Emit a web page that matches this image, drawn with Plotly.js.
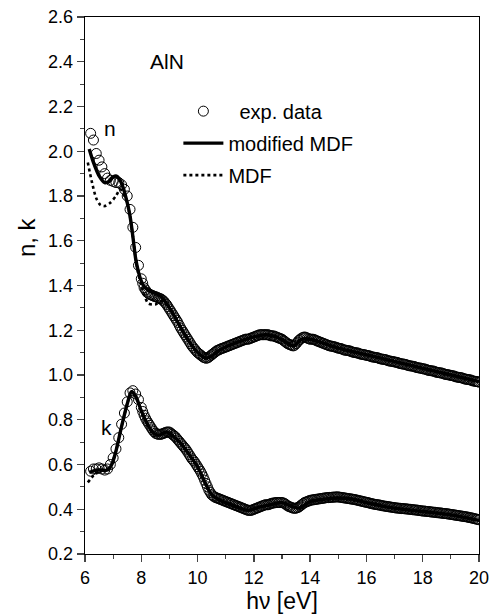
<!DOCTYPE html>
<html><head><meta charset="utf-8">
<script src="https://cdn.plot.ly/plotly-3.0.1.min.js"></script>
<style>html,body{margin:0;padding:0;background:#fff}</style>
</head><body><div id="chart" style="width:493px;height:616px"></div>
<script>
// experimental data (photon energy, eV)
const expE = [6.2,6.3,6.4,6.5,6.6,6.7,6.8,6.9,
7.0,7.1,7.2,7.3,7.4,7.5,7.6,7.7,7.8,7.9,
8.00,8.05,8.10,8.15,8.20,8.25,8.30,8.35,8.40,8.45,8.50,8.55,8.60,8.65,8.70,8.75,8.80,8.85,8.90,8.95,
9.00,9.05,9.10,9.15,9.20,9.25,9.30,9.35,9.40,9.45,9.50,9.55,9.60,9.65,9.70,9.75,9.80,9.85,9.90,9.95,
10.00,10.05,10.10,10.15,10.20,10.25,10.30,10.35,10.40,10.45,10.50,10.55,10.60,10.65,10.70,10.75,10.80,10.85,10.90,10.95,
11.00,11.05,11.10,11.15,11.20,11.25,11.30,11.35,11.40,11.45,11.50,11.55,11.60,11.65,11.70,11.75,11.80,11.85,11.90,11.95,
12.00,12.05,12.10,12.15,12.20,12.25,12.30,12.35,12.40,12.45,12.50,12.55,12.60,12.65,12.70,12.75,12.80,12.85,12.90,12.95,
13.00,13.05,13.10,13.15,13.20,13.25,13.30,13.35,13.40,13.45,13.50,13.55,13.60,13.65,13.70,13.75,13.80,13.85,13.90,13.95,
14.00,14.05,14.10,14.15,14.20,14.25,14.30,14.35,14.40,14.45,14.50,14.55,14.60,14.65,14.70,14.75,14.80,14.85,14.90,14.95,
15.00,15.05,15.10,15.15,15.20,15.25,15.30,15.35,15.40,15.45,15.50,15.55,15.60,15.65,15.70,15.75,15.80,15.85,15.90,15.95,
16.00,16.05,16.10,16.15,16.20,16.25,16.30,16.35,16.40,16.45,16.50,16.55,16.60,16.65,16.70,16.75,16.80,16.85,16.90,16.95,
17.00,17.05,17.10,17.15,17.20,17.25,17.30,17.35,17.40,17.45,17.50,17.55,17.60,17.65,17.70,17.75,17.80,17.85,17.90,17.95,
18.00,18.05,18.10,18.15,18.20,18.25,18.30,18.35,18.40,18.45,18.50,18.55,18.60,18.65,18.70,18.75,18.80,18.85,18.90,18.95,
19.00,19.05,19.10,19.15,19.20,19.25,19.30,19.35,19.40,19.45,19.50,19.55,19.60,19.65,19.70,19.75,19.80,19.85,19.90,19.95,
20.00];
const expN = [2.08,2.05,1.99,1.96,1.93,1.90,1.88,1.87,
1.865,1.86,1.86,1.85,1.83,1.80,1.74,1.66,1.57,1.49,
1.43,1.41,1.39,1.38,1.37,1.365,1.36,1.358,1.355,1.352,1.35,1.348,1.345,1.342,1.34,1.335,1.33,1.322,1.315,1.305,
1.295,1.285,1.275,1.265,1.255,1.245,1.235,1.222,1.21,1.20,1.19,1.18,1.17,1.16,1.15,1.14,1.13,1.122,1.115,1.107,
1.10,1.095,1.09,1.085,1.08,1.077,1.075,1.076,1.08,1.085,1.09,1.095,1.10,1.105,1.11,1.112,1.115,1.118,1.12,1.122,
1.125,1.127,1.13,1.132,1.135,1.137,1.14,1.142,1.145,1.147,1.15,1.152,1.155,1.157,1.16,1.16,1.16,1.162,1.165,1.167,
1.17,1.172,1.175,1.177,1.18,1.18,1.18,1.18,1.18,1.18,1.18,1.178,1.175,1.175,1.175,1.172,1.17,1.167,1.165,1.162,
1.16,1.155,1.15,1.145,1.14,1.137,1.135,1.132,1.13,1.133,1.14,1.147,1.155,1.16,1.165,1.168,1.17,1.168,1.165,1.162,
1.16,1.16,1.16,1.158,1.155,1.152,1.15,1.147,1.145,1.142,1.14,1.137,1.135,1.132,1.13,1.129,1.128,1.126,1.125,1.122,
1.12,1.119,1.118,1.115,1.112,1.111,1.11,1.109,1.108,1.105,1.103,1.101,1.10,1.099,1.098,1.095,1.093,1.092,1.091,1.09,
1.088,1.087,1.086,1.083,1.081,1.08,1.079,1.078,1.077,1.074,1.072,1.071,1.07,1.069,1.068,1.065,1.063,1.062,1.061,1.06,
1.058,1.057,1.056,1.053,1.051,1.05,1.049,1.048,1.047,1.044,1.042,1.041,1.04,1.039,1.038,1.035,1.033,1.032,1.031,1.03,
1.028,1.027,1.026,1.023,1.021,1.02,1.019,1.018,1.017,1.014,1.012,1.011,1.01,1.009,1.008,1.005,1.003,1.002,1.001,1.0,
0.998,0.997,0.996,0.993,0.991,0.99,0.989,0.988,0.987,0.984,0.982,0.981,0.98,0.979,0.978,0.975,0.973,0.972,0.971,0.97,
0.968];
const expK = [0.57,0.58,0.58,0.585,0.58,0.575,0.58,0.60,
0.63,0.67,0.72,0.78,0.83,0.88,0.92,0.93,0.915,0.89,
0.855,0.837,0.82,0.807,0.795,0.785,0.775,0.765,0.755,0.747,0.74,0.737,0.735,0.735,0.735,0.737,0.74,0.742,0.745,0.745,
0.745,0.74,0.735,0.73,0.725,0.718,0.71,0.703,0.695,0.688,0.68,0.673,0.665,0.655,0.645,0.635,0.625,0.618,0.61,0.60,
0.59,0.58,0.57,0.558,0.545,0.53,0.515,0.50,0.485,0.475,0.465,0.46,0.455,0.452,0.45,0.447,0.445,0.442,0.44,0.437,
0.435,0.432,0.43,0.427,0.425,0.422,0.42,0.417,0.415,0.412,0.41,0.407,0.405,0.402,0.40,0.397,0.395,0.395,0.395,0.397,
0.40,0.402,0.405,0.407,0.41,0.412,0.415,0.417,0.42,0.42,0.42,0.422,0.425,0.427,0.428,0.429,0.43,0.43,0.43,0.43,
0.43,0.428,0.425,0.42,0.415,0.412,0.41,0.407,0.405,0.404,0.405,0.407,0.41,0.415,0.42,0.425,0.43,0.432,0.435,0.437,
0.44,0.441,0.442,0.443,0.444,0.445,0.446,0.447,0.448,0.449,0.45,0.451,0.452,0.452,0.453,0.453,0.454,0.454,0.455,0.455,
0.455,0.454,0.453,0.452,0.451,0.45,0.449,0.448,0.447,0.446,0.445,0.444,0.443,0.441,0.44,0.438,0.437,0.435,0.434,0.432,
0.431,0.43,0.428,0.426,0.425,0.423,0.422,0.421,0.42,0.419,0.418,0.416,0.415,0.414,0.413,0.412,0.411,0.41,0.409,0.408,
0.407,0.406,0.405,0.405,0.404,0.403,0.403,0.402,0.402,0.401,0.40,0.40,0.399,0.398,0.397,0.397,0.396,0.395,0.394,0.393,
0.392,0.392,0.391,0.39,0.39,0.389,0.388,0.387,0.387,0.386,0.385,0.384,0.384,0.383,0.382,0.381,0.381,0.38,0.379,0.378,
0.377,0.376,0.375,0.374,0.373,0.372,0.371,0.37,0.369,0.368,0.367,0.366,0.365,0.363,0.362,0.361,0.359,0.358,0.356,0.355,
0.353];

// modified MDF fit
const fitNE = [6.15,6.3,6.5,6.7,6.85,7.0,7.1,7.2,7.35,7.5,7.6,7.7,7.8,7.9,8.0,8.1,8.3,8.5,8.7,8.9,9.1,9.3,9.5,9.7,9.9,10.1,10.3,10.5,10.7,11.0,11.5,12.0,12.4,12.8,13.1,13.4,13.7,14.0,15.0,16.0,17.0,18.0,19.0,20.0];
const fitN  = [2.01,1.95,1.89,1.86,1.865,1.885,1.89,1.88,1.84,1.77,1.71,1.62,1.52,1.46,1.42,1.395,1.375,1.365,1.35,1.32,1.28,1.235,1.19,1.15,1.115,1.09,1.075,1.085,1.105,1.125,1.15,1.17,1.18,1.17,1.15,1.13,1.16,1.16,1.12,1.09,1.06,1.03,1.00,0.97];
const fitKE = [6.15,6.4,6.6,6.8,6.95,7.1,7.3,7.5,7.65,7.8,8.0,8.2,8.4,8.6,8.9,9.1,9.4,9.7,10.0,10.3,10.5,10.8,11.2,11.8,12.2,12.6,13.0,13.3,13.6,14.0,14.5,15.0,15.5,16.0,17.0,18.0,19.0,20.0];
const fitK  = [0.565,0.575,0.575,0.575,0.60,0.66,0.77,0.87,0.925,0.905,0.84,0.785,0.745,0.73,0.745,0.73,0.695,0.645,0.59,0.51,0.465,0.44,0.42,0.395,0.41,0.42,0.43,0.415,0.405,0.435,0.445,0.45,0.445,0.43,0.405,0.39,0.375,0.35];

// MDF
const mdfNE = [6.1,6.25,6.4,6.55,6.7,6.9,7.1,7.25,7.4,7.5,7.6,7.7,7.8,7.9,8.0,8.1,8.25,8.5,8.7,9.0,9.3,9.5,9.7,9.9,10.1,10.3,10.5,10.7,11.0,11.5,12.0,12.4,12.8,13.1,13.4,13.7,14.0,15.0,16.0,17.0,18.0,19.0,20.0];
const mdfN  = [1.95,1.86,1.79,1.76,1.755,1.77,1.80,1.83,1.80,1.77,1.71,1.62,1.52,1.45,1.40,1.36,1.32,1.315,1.33,1.30,1.235,1.19,1.15,1.115,1.09,1.075,1.085,1.105,1.125,1.15,1.17,1.18,1.17,1.15,1.13,1.16,1.16,1.12,1.09,1.06,1.03,1.00,0.97];
const mdfKE = [6.1,6.3,6.5,6.7,6.9,7.1,7.3,7.5,7.65,7.8,8.0,8.2,8.4,8.6,8.9,9.1,9.4,9.7,10.0,10.3,10.5,10.8,11.2,11.8,12.2,12.6,13.0,13.3,13.6,14.0,14.5,15.0,15.5,16.0,17.0,18.0,19.0,20.0];
const mdfK  = [0.52,0.55,0.57,0.575,0.59,0.66,0.77,0.87,0.925,0.905,0.84,0.785,0.745,0.73,0.745,0.73,0.695,0.645,0.59,0.51,0.465,0.44,0.42,0.395,0.41,0.42,0.43,0.415,0.405,0.435,0.445,0.45,0.445,0.43,0.405,0.39,0.375,0.35];

const labels = ['&nbsp;&nbsp;exp. data','modified MDF','MDF'];

const circ = {symbol:'circle-open', size:10, color:'#000', line:{width:1, color:'#000'}};
const solid = {color:'#000', width:3.4, shape:'spline', smoothing:0.8};
const dotted = {color:'#000', width:2.6, dash:'dot', shape:'spline', smoothing:0.8};

const traces = [
  {x:expE, y:expN, mode:'markers', marker:circ, name:labels[0], legendgroup:'a', showlegend:true},
  {x:expE, y:expK, mode:'markers', marker:circ, name:labels[0], legendgroup:'a', showlegend:false},
  {x:fitNE, y:fitN, mode:'lines', line:solid, name:labels[1], legendgroup:'b', showlegend:true},
  {x:fitKE, y:fitK, mode:'lines', line:solid, name:labels[1], legendgroup:'b', showlegend:false},
  {x:mdfNE, y:mdfN, mode:'lines', line:dotted, name:labels[2], legendgroup:'c', showlegend:true},
  {x:mdfKE, y:mdfK, mode:'lines', line:dotted, name:labels[2], legendgroup:'c', showlegend:false}
];

const font = 'Liberation Sans, Arial, sans-serif';
const layout = {
  width:493, height:616,
  margin:{l:85, r:14, t:17, b:62},
  paper_bgcolor:'#fff', plot_bgcolor:'#fff',
  font:{family:font, color:'#000', size:18},
  showlegend:true,
  legend:{x:0.237, y:0.861, xanchor:'left', yanchor:'top', traceorder:'grouped',
          bgcolor:'rgba(0,0,0,0)', font:{size:20, family:font}, tracegroupgap:3, itemwidth:40},
  xaxis:{range:[6,20], dtick:2, tick0:6, ticks:'outside', ticklen:7, tickwidth:1.3,
         showline:true, linewidth:1.3, linecolor:'#000', mirror:true,
         showgrid:false, zeroline:false, tickfont:{size:18},
         minor:{dtick:1, ticks:'outside', ticklen:4, tickwidth:1.2, showgrid:false},
         title:{text:'h\u03bd [eV]', font:{size:23}, standoff:4}},
  yaxis:{range:[0.2,2.6], dtick:0.2, tick0:0.2, tickformat:'.1f', ticks:'outside', ticklen:7, tickwidth:1.3,
         showline:true, linewidth:1.3, linecolor:'#000', mirror:true,
         showgrid:false, zeroline:false, tickfont:{size:18},
         minor:{dtick:0.1, ticks:'outside', ticklen:4, tickwidth:1.2, showgrid:false}},
  annotations:[
    {text:'n, k', xref:'paper', yref:'paper', x:-0.150, xanchor:'center', y:0.59, yanchor:'middle', textangle:-90, showarrow:false, font:{size:24}},
    {text:'AlN', x:8.9, y:2.4, showarrow:false, font:{size:21}},
    {text:'n', x:6.9, y:2.1, showarrow:false, font:{size:21}},
    {text:'k', x:6.76, y:0.765, showarrow:false, font:{size:21}}
  ]
};
Plotly.newPlot('chart', traces, layout, {displayModeBar:false, staticPlot:true});
</script></body></html>
